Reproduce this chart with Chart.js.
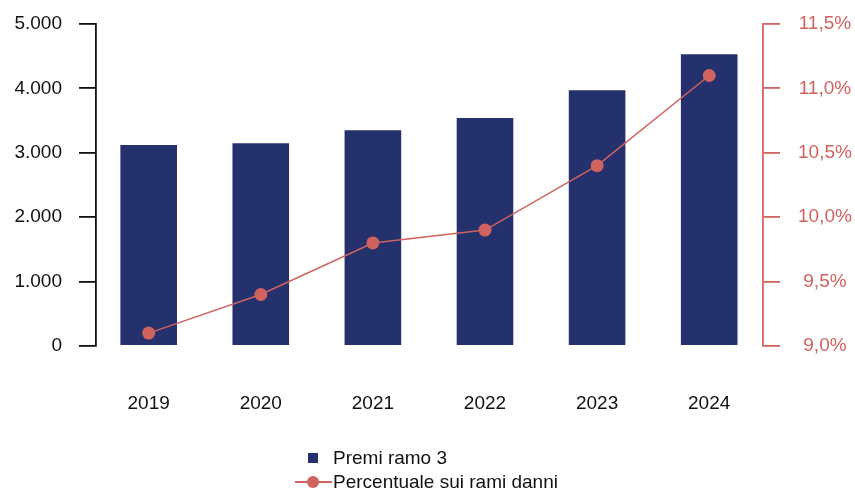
<!DOCTYPE html>
<html>
<head>
<meta charset="utf-8">
<script src="https://cdn.jsdelivr.net/npm/chart.js@4/dist/chart.umd.min.js"></script>
<style>
  body { margin: 0; background: #fff; }
  #wrap { position: relative; width: 855px; height: 491px; }
  #legend { position: absolute; left: 290px; top: 446px; font: 19px "Liberation Sans", Arial, sans-serif; color: #111; }
  .item { position: relative; height: 24px; line-height: 24px; padding-left: 43px; white-space: nowrap; }
  .sq { position: absolute; left: 18px; top: 7px; width: 10px; height: 10px; background: #24316c; }
  .ln { position: absolute; left: 5px; top: 11px; width: 37px; height: 2px; background: #d0625f; }
  .dot { position: absolute; left: 17px; top: 6px; width: 12px; height: 12px; border-radius: 50%; background: #d0625f; }
</style>
</head>
<body>
<div id="wrap">
  <canvas id="chart" width="855" height="491"></canvas>
  <div id="legend">
    <div class="item"><span class="sq"></span>Premi ramo 3</div>
    <div class="item"><span class="ln"></span><span class="dot"></span>Percentuale sui rami danni</div>
  </div>
</div>
<script>
// data
const years = [2019, 2020, 2021, 2022, 2023, 2024];
const premi = [3120, 3150, 3350, 3540, 3970, 4530];
const percentuale = [9.1, 9.4, 9.8, 9.9, 10.4, 11.1];

const navy = '#24316c';
const red = '#d0625f';
const font = { family: '"Liberation Sans", Arial, sans-serif', size: 19 };

function thousands(v) {
  return String(v).replace(/\B(?=(\d{3})+(?!\d))/g, '.');
}

// fixed axis widths, no extra label padding above/below
function fitY(width) {
  return s => { s.width = width; s.paddingTop = 0; s.paddingBottom = 0; };
}

Chart.defaults.font = font;
Chart.defaults.color = '#111';

const ctx = document.getElementById('chart').getContext('2d');
new Chart(ctx, {
  type: 'bar',
  data: {
    datasets: [
      {
        type: 'line',
        label: 'Percentuale sui rami danni',
        data: years.map((y, i) => ({ x: y, y: percentuale[i] })),
        yAxisID: 'y1',
        borderColor: red,
        backgroundColor: red,
        borderWidth: 1.5,
        pointRadius: 6.5,
        pointBorderWidth: 0,
        tension: 0,
        order: 0
      },
      {
        label: 'Premi ramo 3',
        data: years.map((y, i) => ({ x: y, y: premi[i] })),
        yAxisID: 'y',
        backgroundColor: navy,
        barPercentage: 0.505,
        categoryPercentage: 1,
        order: 1
      }
    ]
  },
  options: {
    responsive: false,
    animation: false,
    layout: { padding: { left: 0, right: 0, top: 24, bottom: 75 } },
    plugins: { legend: { display: false }, tooltip: { enabled: false } },
    scales: {
      x: {
        type: 'linear',
        offset: false,
        min: 2018.53,
        max: 2024.48,
        grid: { display: false, drawTicks: false, offset: false },
        border: { display: false },
        ticks: {
          stepSize: 1,
          includeBounds: false,
          padding: 46,
          color: '#111',
          callback: v => Number.isInteger(v) ? String(v) : ''
        },
        afterFit: s => { s.height = 70; s.paddingLeft = 0; s.paddingRight = 0; }
      },
      y: {
        position: 'left',
        min: 0,
        max: 5000,
        grid: { drawOnChartArea: false, tickLength: 17, color: '#111', lineWidth: 1.8 },
        border: { color: '#111', width: 1.8 },
        ticks: { stepSize: 1000, padding: 17, color: '#111', callback: v => thousands(v) },
        afterFit: fitY(96)
      },
      y1: {
        position: 'right',
        min: 9,
        max: 11.5,
        grid: { drawOnChartArea: false, tickLength: 17, color: red, lineWidth: 1.8 },
        border: { color: red, width: 1.8 },
        ticks: {
          stepSize: 0.5,
          padding: 18,
          color: red,
          crossAlign: 'center',
          callback: v => v.toFixed(1).replace('.', ',') + '%'
        },
        afterFit: fitY(92)
      }
    }
  }
});
</script>
</body>
</html>
